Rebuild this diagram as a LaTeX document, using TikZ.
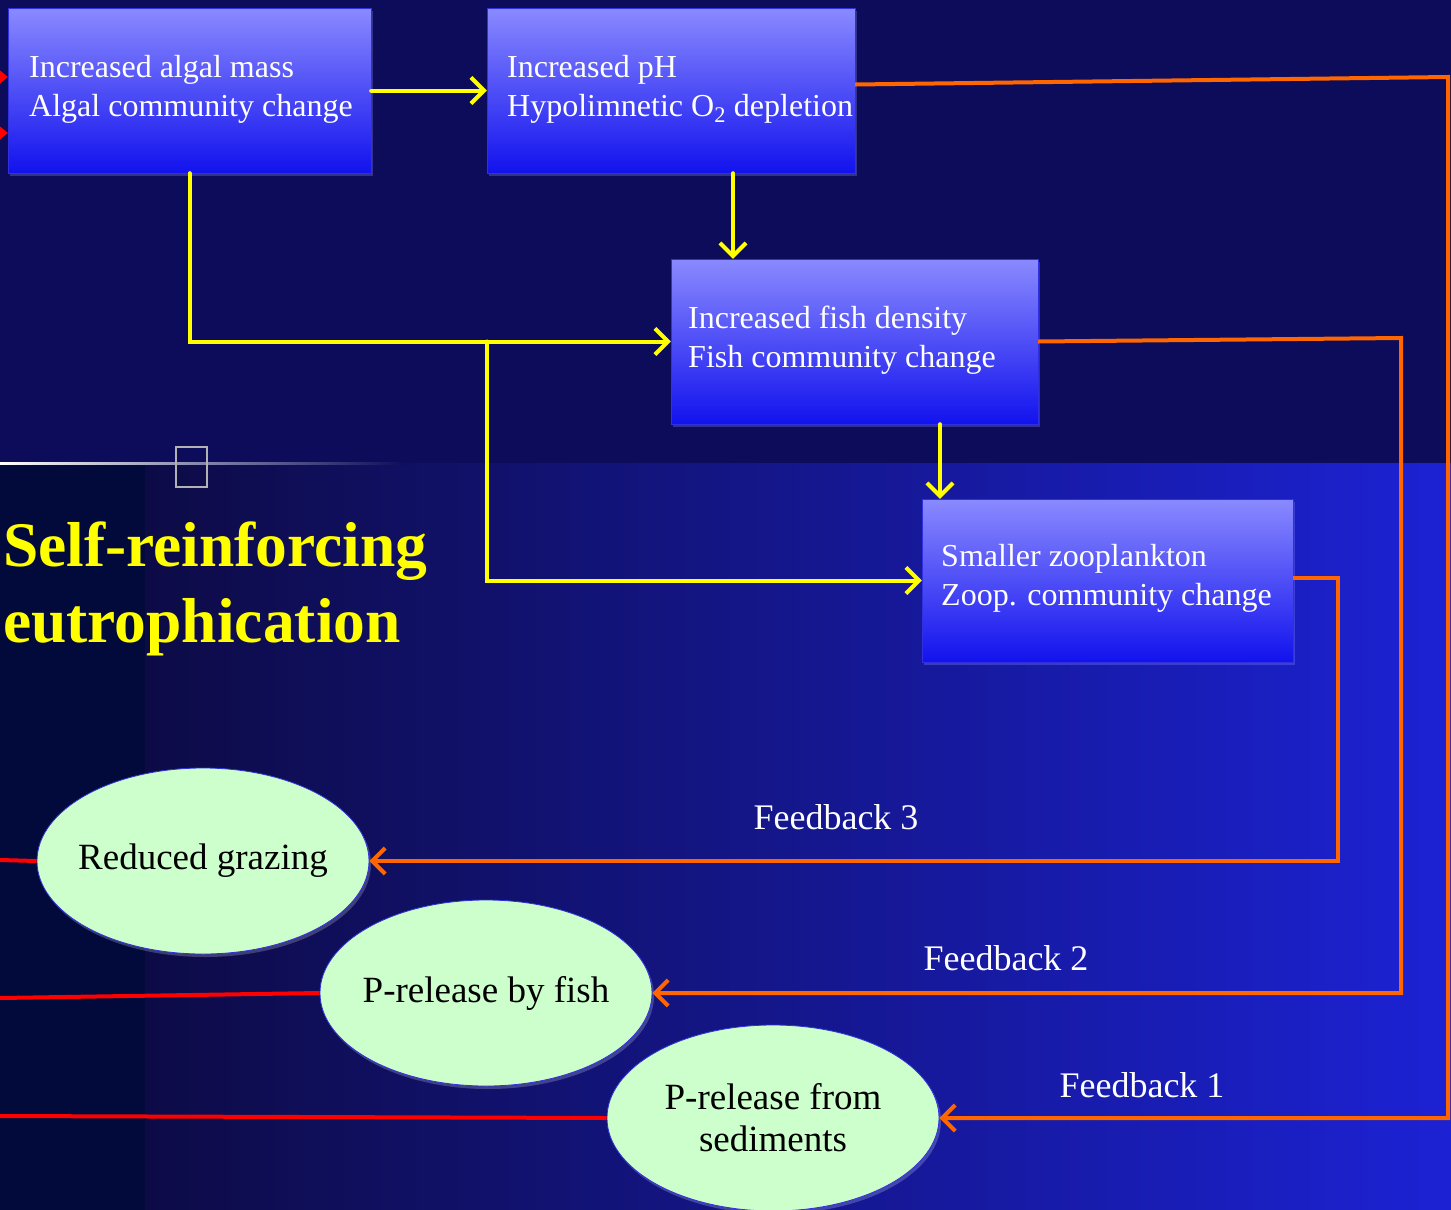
\documentclass[tikz,border=0pt]{standalone}
\usepackage{fontspec}
\setmainfont{Liberation Serif}
\usetikzlibrary{arrows.meta,positioning,shapes.geometric,calc,shadows}
\definecolor{night}{HTML}{0C0C5A}
\definecolor{deepsea}{HTML}{020A3C}
\definecolor{duskblue}{HTML}{0D0B46}
\definecolor{brightsea}{HTML}{1C22D4}
\definecolor{boxtop}{HTML}{8A8AFF}
\definecolor{boxbot}{HTML}{1212EE}
\definecolor{boxrim}{HTML}{3030E0}
\definecolor{mint}{HTML}{CCFFCC}
\definecolor{sun}{HTML}{FFFF00}
\definecolor{ember}{HTML}{FF6600}
\definecolor{signal}{HTML}{FF0000}

\begin{document}
\begin{tikzpicture}[x=1pt, y=1pt,
    box/.style={rectangle, draw=boxrim, thin, top color=boxtop, bottom color=boxbot,
        minimum height=165pt, inner sep=0pt,
        drop shadow={shadow xshift=2pt, shadow yshift=-3pt, fill=boxtop, opacity=0.3}},
    boxtext/.style={anchor=west, inner sep=0pt, align=left, text=white,
        font=\fontsize{32}{39}\selectfont},
    blob/.style={ellipse, draw=boxrim, thick, fill=mint, minimum width=332pt,
        minimum height=186pt, inner xsep=-45pt, inner ysep=0pt, align=center, text=black,
        font=\fontsize{37}{42}\selectfont,
        drop shadow={shadow xshift=2pt, shadow yshift=-3pt, fill=white, opacity=0.2}},
    fbtag/.style={text=white, inner sep=0pt, font=\fontsize{36}{40}\selectfont},
    drive/.style={-{Straight Barb[length=13pt,width=26pt]}, line width=4pt, sun, line cap=round},
    feedback/.style={-{Straight Barb[length=13pt,width=26pt]}, line width=4pt, ember},
    leak/.style={line width=4pt, signal},
]
\useasboundingbox (0,0) rectangle (1451,-1210);

% Backdrop: dark upper half, shaded lower half
\fill[night] (0,0) rectangle (1451,-463);
\fill[deepsea] (0,-463) rectangle (145,-1210);
\shade[left color=duskblue, right color=brightsea] (145,-463) rectangle (1451,-1210);
\shade[left color=white, right color=night] (0,-462) rectangle (405,-464.5);
\draw[gray!60, line width=1.5pt] (176,-447) rectangle (207,-487);

% Causal boxes
\node[box, minimum width=363pt] (algae) at (189.5,-90.5) {};
\node[box, minimum width=368pt] (ph) at (671,-90.5) {};
\node[box, minimum width=367pt] (fish) at (854.5,-341.5) {};
\node[box, minimum width=371pt, minimum height=163pt] (zoop) at (1107.5,-580.5) {};

\node[boxtext] (algaeText) at (29,-89) {Increased algal mass\\Algal community change};
\node[boxtext] (phText) at (507,-89) {Increased pH\\Hypolimnetic O\textsubscript{2} depletion};
\node[boxtext] (fishText) at (688,-340) {Increased fish density\\Fish community change};
\node[boxtext] (zoopText) at (941,-578.5) {Smaller zooplankton\\Zoop. community change};

% Feedback outcomes
\node[blob] (graze) at (203,-861) {Reduced grazing};
\node[blob] (pfish) at (486,-993) {P-release by fish};
\node[blob] (psed) at (773,-1118) {P-release from\\sediments};

% Title
\node[anchor=north west, inner sep=0pt, align=left, text=sun,
    font=\fontsize{63.5}{76}\selectfont\bfseries] (title) at (3,-522)
    {Self-reinforcing\\eutrophication};

% Forward chain
\draw[drive] (algae) -- (ph);
\draw[drive] ([xshift=62pt]ph.south) -- ([xshift=62pt]ph.south |- fish.north);
\draw[drive] (algae.south) |- (fish.west);
\coordinate (fork) at (487,-341.5);
\draw[drive] (fork) |- (zoop.west);
\draw[drive] ([xshift=85.5pt]fish.south) -- ([xshift=85.5pt]fish.south |- zoop.north);

% Feedback loops
\coordinate (turn1) at (1448,-77);
\coordinate (turn2) at (1401,-338);
\coordinate (turn3) at (1338,-578);
\draw[feedback] ([yshift=6pt]ph.east) -- (turn1) |- (psed.east);
\draw[feedback] (fish.east) -- (turn2) |- (pfish.east);
\draw[feedback] ([yshift=2.5pt]zoop.east) -- (turn3) |- (graze.east);
\node[fbtag] (fb3) at (836,-817) {Feedback 3};
\node[fbtag] (fb2) at (1006,-958) {Feedback 2};
\node[fbtag] (fb1) at (1142,-1085) {Feedback 1};

% Nutrient links off to the left
\coordinate (inA) at (0,-77);
\coordinate (inB) at (0,-133);
\draw[leak, -{Triangle[length=8pt,width=13pt]}] (inA) -- (inA -| algae.west);
\draw[leak, -{Triangle[length=8pt,width=13pt]}] (inB) -- (inB -| algae.west);
\coordinate (outG) at (0,-860);
\coordinate (outF) at (0,-998);
\coordinate (outS) at (0,-1116);
\draw[leak] (graze.west) -- (outG);
\draw[leak] (pfish.west) -- (outF);
\draw[leak] (psed.west) -- (outS);
\end{tikzpicture}
\end{document}
